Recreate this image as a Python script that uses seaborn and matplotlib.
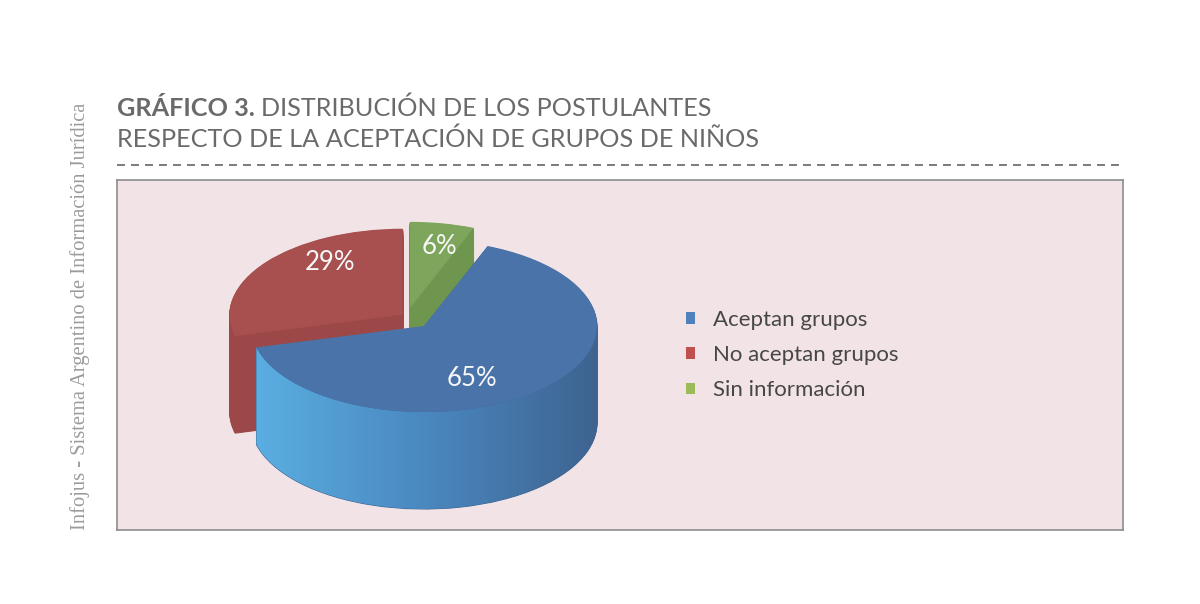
import numpy as np
import matplotlib
matplotlib.use("Agg")
import matplotlib.pyplot as plt
import seaborn as sns
from matplotlib.patches import Patch, Polygon
from matplotlib.colors import LinearSegmentedColormap

# data
categories = ["Aceptan grupos", "No aceptan grupos", "Sin información"]
shares = [65, 29, 6]
title_bold = "GRÁFICO 3."
title_line1 = "DISTRIBUCIÓN DE LOS POSTULANTES"
title_line2 = "RESPECTO DE LA ACEPTACIÓN DE GRUPOS DE NIÑOS"
side_note = "Infojus - Sistema Argentino de Información Jurídica"

# styles
legend_colors = ["#4F81BD", "#C0504D", "#9BBB59"]
top_colors = ["#4A73A9", "#A84F4F", "#7DA65C"]
side_colors = ["#3F6491", "#9C4848", "#6E964E"]
explode = [0.15, 0.03, 0.10]
blue_side = LinearSegmentedColormap.from_list("side", ["#5BAFE2", "#4A88C0", "#3E6390"])

sns.set_theme(style="white")
plt.rcParams["font.family"] = ["Lato", "DejaVu Sans"]

W, H = 1200, 604
fig = plt.figure(figsize=(W / 100, H / 100), dpi=100)
fig.patch.set_facecolor("white")


def box(left, top, width, height):
    return [left / W, 1 - (top + height) / H, width / W, height / H]


# page layer, pixel coordinates
bg = fig.add_axes([0, 0, 1, 1])
bg.set_xlim(0, W)
bg.set_ylim(H, 0)
bg.axis("off")

panel = fig.add_axes(box(117, 180, 1006, 350))
panel.set_facecolor("#F2E4E6")
panel.set_xticks([])
panel.set_yticks([])
for s in panel.spines.values():
    s.set_visible(True)
    s.set_color("#8C8C8C")
    s.set_linewidth(1.2)

# pie axes: origin and scale in pixels
ORIGIN = (406.8, 316.3)
SX, SY = 173, 86
pbox = (120, 183, 600, 344)
ax = fig.add_axes(box(*pbox))

total = sum(shares)
start = 90 - 360 * shares[2] / total
depth = 97 / SY
n_layers = 90

for k in range(n_layers, 0, -1):
    wedges, _ = ax.pie(shares, explode=explode, colors=side_colors, startangle=start,
                       counterclock=False, center=(0, -depth * k / n_layers),
                       labeldistance=None, wedgeprops=dict(linewidth=0.8))
    for i, w in enumerate(wedges):
        w.set_edgecolor(w.get_facecolor())
        w.set_zorder(2 if i == 0 else 1)

tops, _ = ax.pie(shares, explode=explode, colors=top_colors, startangle=start,
                 counterclock=False, center=(0, 0), labeldistance=None,
                 wedgeprops=dict(linewidth=0))
for w in tops:
    w.set_zorder(4)

# gradient on the front side of the big slice
blue = tops[0]
cx, cy = blue.center
t = np.radians(np.linspace(blue.theta1, 0, 150))
upper = np.column_stack([cx + np.cos(t), cy + np.sin(t)])
lower = np.column_stack([cx + np.cos(t[::-1]), cy - depth + np.sin(t[::-1])])
clip = Polygon(np.vstack([upper, lower]), closed=True, transform=ax.transData)
im = ax.imshow(np.linspace(0, 1, 256)[None, :], extent=[cx - 1, cx + 1, cy - depth - 1, cy + 1],
               cmap=blue_side, aspect="auto", zorder=3, interpolation="bicubic")
im.set_clip_path(clip)

label_px = [(472, 379), (330, 263), (439, 247)]
for s, (px, py) in zip(shares, label_px):
    ax.text((px - ORIGIN[0]) / SX, (ORIGIN[1] - py) / SY, f"{s}%", ha="center", va="center",
            color="#F7F7F7", fontsize=18.5, zorder=5)

ax.set_aspect("auto")
ax.set_xlim((pbox[0] - ORIGIN[0]) / SX, (pbox[0] + pbox[2] - ORIGIN[0]) / SX)
ax.set_ylim((ORIGIN[1] - pbox[1] - pbox[3]) / SY, (ORIGIN[1] - pbox[1]) / SY)
ax.axis("off")

handles = [Patch(facecolor=c, edgecolor="none") for c in legend_colors]
fig.legend(handles, categories, loc="center left", bbox_to_anchor=(686 / W, 1 - 355 / H),
           frameon=False, fontsize=16, handlelength=0.4, handleheight=0.4,
           handletextpad=0.8, labelspacing=0.68, borderpad=0, borderaxespad=0,
           labelcolor="#474747")

# title
t0 = bg.text(117, 116, title_bold, fontsize=18.2, fontweight="bold", color="#6A6A6A", va="baseline")
bb = t0.get_window_extent(fig.canvas.get_renderer())
bg.text(bb.x1 + 6, 116, title_line1, fontsize=18.2, color="#6A6A6A", va="baseline")
bg.text(117, 147, title_line2, fontsize=18.2, color="#6A6A6A", va="baseline")
bg.plot([117, 1123], [165, 165], color="#7A7A7A", lw=1.4, ls=(0, (4.1, 3.1)))

bg.text(80, 316, side_note, rotation=90, ha="center", va="center", fontsize=14.8,
        color="#9B9B9B", family=["Liberation Serif", "DejaVu Serif"])

fig.savefig("out.png", dpi=100)
